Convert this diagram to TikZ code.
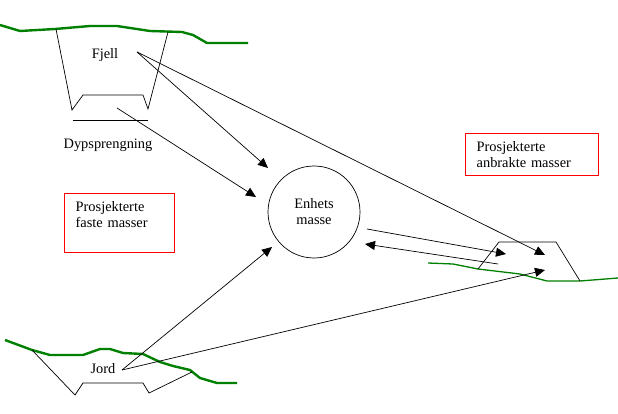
\documentclass[tikz,border=0pt]{standalone}
\usepackage{fontspec}
\setmainfont{Liberation Serif}
\usetikzlibrary{arrows.meta}
\definecolor{gress}{RGB}{0,128,0}
\definecolor{boksrod}{RGB}{255,0,0}
\tikzset{
  terreng/.style={gress, line width=2.4pt, line join=round},
  kant/.style={black, line width=0.7pt},
  pil/.style={kant, -{Triangle[length=10pt,width=9pt]}},
  boks/.style={draw=boksrod, line width=1.3pt, minimum width=110pt, minimum height=59pt, anchor=north west, align=left, text width=88pt, inner sep=0pt},
  tekst/.style={font=\fontsize{14.4}{16}\selectfont}
}
\begin{document}
\begin{tikzpicture}[x=1pt,y=-1pt]
            \useasboundingbox (0,0) rectangle (618,414);
            % Fjell
            \draw[terreng](0,25)--(20,31)--(55,29)--(90,26)--(117,26)--(150,31)--(182,32)--(193,35)--(207,43)--(248,43);
            \draw[kant](56,29)--(72,110)--(83,95)--(143,95)--(148,109)--(168,32);
            \draw[kant](73,120)--(148,120);
            \node[tekst] (fjell) at (105,55) {Fjell};
            \node[tekst] (dyp) at (108,145) {Dypsprengning};
            \coordinate (fjellA) at (137,52);
            \coordinate (dypA) at (117,108);
            % Jord
            \draw[terreng](5,340)--(32,350)--(50,355)--(83,355)--(100,349)--(110,349)--(123,353)--(143,354)--(160,362)--(173,366)--(190,370)--(200,378)--(217,383)--(237,383);
            \draw[kant](32,350)--(75,395)--(83,383)--(143,383)--(149,393)--(192,372);
            \node[tekst] (jord) at (103,369) {Jord};
            \coordinate (jordA) at (122,370);
            % Anbrakt fylling
            \draw[gress, line width=1.3pt](428,263)--(453,264)--(478,269)--(520,274)--(547,281)--(580,281)--(618,278);
            \draw[kant](478,269)--(499,242)--(556,242)--(580,281);
            % Enhetsmasse
            \node[draw, circle, kant, minimum size=92pt, tekst, align=center] (enhet) at (314,212) {Enhets\\masse};
            % bokser
            \node[boks, tekst] (faste) at (64,193) {Prosjekterte\\faste masser\par\vspace{1pt}\hbox{}};
            \node[boks, tekst, minimum width=133pt, minimum height=42pt, text width=111pt] (anbrakt) at (465,133) {Prosjekterte\\anbrakte masser};
            % piler
            \coordinate (inn1) at (268,168);
            \coordinate (inn2) at (256,197);
            \coordinate (inn3) at (272,247);
            \coordinate (ut1) at (367,229);
            \coordinate (ut2) at (506,254);
            \coordinate (tilbake1) at (498,264);
            \coordinate (tilbake2) at (365,244);
            \coordinate (fylling1) at (545,255);
            \coordinate (fylling2) at (545,270);
            \draw[pil](fjellA)--(inn1);
            \draw[pil](fjellA)--(fylling1);
            \draw[pil](dypA)--(inn2);
            \draw[pil](jordA)--(inn3);
            \draw[pil](jordA)--(fylling2);
            \draw[pil](ut1)--(ut2);
            \draw[pil](tilbake1)--(tilbake2);
        \end{tikzpicture}
\end{document}
